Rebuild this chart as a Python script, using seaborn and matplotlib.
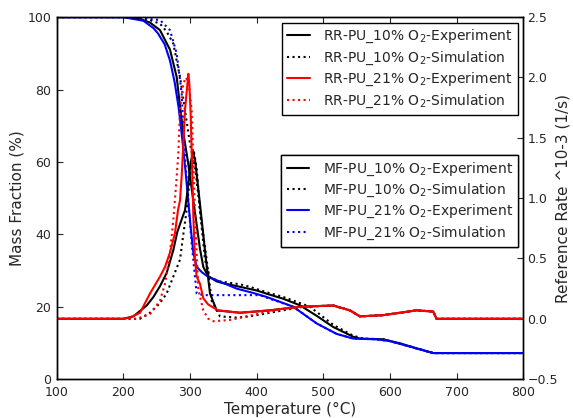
import matplotlib
matplotlib.use("Agg")
import matplotlib.pyplot as plt
import seaborn as sns

# mass fraction curves (left axis, %)
mf10_exp_T = [100, 200, 225, 240, 255, 270, 280, 284, 290, 297, 303, 309, 315, 320, 327, 340, 350, 375,
              400, 415, 440, 465, 490, 515, 545, 555, 590, 615, 640, 665, 700, 800]
mf10_exp_y = [100, 100, 99.5, 98.5, 96.4, 91, 83.5, 77, 68, 60, 52, 44, 36, 31, 28.5, 27, 26.5, 25.5,
              24.5, 23.6, 22.2, 20.4, 17.5, 14.4, 11.7, 11.2, 11, 9.9, 8.5, 7.2, 7.2, 7.2]

mf10_sim_T = [100, 200, 235, 255, 265, 275, 280, 285, 292.5, 300, 307.5, 313, 317.5, 322.5, 330, 345, 375,
              390, 415, 440, 480, 515, 545, 560, 590, 615, 640, 665, 700, 800]
mf10_sim_y = [100, 100, 99.5, 98.2, 96, 92.7, 88, 83.5, 74.3, 65, 58.6, 50, 42, 33, 28, 27, 26.2,
              25.5, 24, 22.7, 20, 15, 12, 11.2, 11, 9.8, 8.5, 7.2, 7.2, 7.2]

mf21_exp_T = [100, 200, 230, 245, 252, 262, 270, 277, 283, 288, 293, 297, 301, 305, 310, 318, 327, 352,
              370, 395, 415, 455, 490, 520, 545, 580, 600, 630, 665, 700, 800]
mf21_exp_y = [100, 100, 99, 97, 95.5, 92.5, 88, 82, 75, 67, 58, 50, 42, 35, 31, 29.5, 28.3, 26.4,
              25, 23.8, 22.7, 20, 15.4, 12.5, 11.2, 11, 10.5, 9, 7.2, 7.2, 7.2]

mf21_sim_T = [100, 210, 255, 270, 280, 287.5, 290, 293, 298, 302.5, 307.5, 310, 320, 405, 415, 455, 490,
              520, 545, 580, 600, 630, 665, 700, 800]
mf21_sim_y = [100, 100, 99.2, 96.4, 90, 78.9, 69.7, 60, 48, 37.5, 28.3, 23.7, 23.2, 23.2, 22.5, 20, 15.4,
              12.5, 11.2, 11, 10.5, 9, 7.2, 7.2, 7.2]

# reaction rate curves (right axis, x10^-3 1/s)
rr10_exp_T = [100, 200, 215, 235, 245, 255, 265, 275, 281, 286, 292.5, 297, 301, 305, 308, 316, 324, 330,
              340, 375, 420, 465, 515, 540, 555, 590, 640, 665, 670, 800]
rr10_exp_r = [0, 0, 0.02, 0.11, 0.18, 0.27, 0.38, 0.57, 0.72, 0.8, 0.9, 1.09, 1.3, 1.38, 1.3, 0.9, 0.49, 0.21,
              0.07, 0.05, 0.07, 0.1, 0.11, 0.07, 0.02, 0.03, 0.07, 0.06, 0.0, 0.0]

rr10_sim_T = [100, 225, 240, 255, 265, 275, 285, 290, 295, 300, 306, 310, 315, 325, 332.5, 345, 370,
              390, 420, 470, 515, 540, 555, 590, 640, 665, 670, 800]
rr10_sim_r = [0, 0, 0.05, 0.13, 0.21, 0.35, 0.49, 0.7, 0.9, 1.18, 1.38, 1.25, 0.9, 0.49, 0.15, 0.02, 0.01,
              0.02, 0.05, 0.1, 0.11, 0.07, 0.02, 0.03, 0.07, 0.06, 0.0, 0.0]

rr21_exp_T = [100, 200, 210, 225, 240, 255, 262.5, 270, 277.5, 282, 285, 287.5, 290, 292.5, 297.5, 299,
              301, 303, 305, 307.5, 310, 315, 320, 327, 342, 375, 420, 465, 515, 540, 555, 590, 640,
              665, 670, 800]
rr21_exp_r = [0, 0, 0.01, 0.05, 0.21, 0.35, 0.43, 0.55, 0.71, 0.9, 0.98, 1.18, 1.45, 1.73, 2.03, 1.95,
              1.7, 1.3, 0.85, 0.49, 0.35, 0.29, 0.17, 0.12, 0.07, 0.05, 0.07, 0.1, 0.11, 0.07, 0.02, 0.03,
              0.07, 0.06, 0.0, 0.0]

rr21_sim_T = [100, 220, 240, 255, 263, 270, 275, 279, 282.5, 285, 290, 294, 298, 302.5, 305, 308, 312.5,
              320, 327.5, 335, 360, 385, 410, 440, 470, 515, 540, 555, 590, 640, 665, 670, 800]
rr21_sim_r = [0, 0, 0.04, 0.15, 0.3, 0.55, 0.82, 1.1, 1.37, 1.73, 1.95, 2.0, 1.95, 1.73, 1.31, 0.8, 0.24,
              0.07, 0.0, -0.02, -0.01, 0.02, 0.05, 0.08, 0.1, 0.11, 0.07, 0.02, 0.03, 0.07, 0.06, 0.0, 0.0]

sns.set_style("white")
plt.rcParams["font.family"] = ["DejaVu Sans"]
plt.rcParams["xtick.direction"] = "in"
plt.rcParams["ytick.direction"] = "in"

fig = plt.figure(figsize=(5.73, 4.18), dpi=100)
ax = fig.add_axes([0.099, 0.093, 0.814, 0.866])
ax2 = ax.twinx()

lw = 1.5

def draw(a, T, v, color, ls, label):
    sns.lineplot(x=T, y=v, ax=a, color=color, linestyle=ls, lw=lw, label=label,
                 estimator=None, sort=False, legend=False)
    return a.lines[-1]

h_mf = [
    draw(ax, mf10_exp_T, mf10_exp_y, "k", "-", "MF-PU_10% O$_2$-Experiment"),
    draw(ax, mf10_sim_T, mf10_sim_y, "k", ":", "MF-PU_10% O$_2$-Simulation"),
    draw(ax, mf21_exp_T, mf21_exp_y, "b", "-", "MF-PU_21% O$_2$-Experiment"),
    draw(ax, mf21_sim_T, mf21_sim_y, "b", ":", "MF-PU_21% O$_2$-Simulation"),
]
h_rr = [
    draw(ax2, rr10_exp_T, rr10_exp_r, "k", "-", "RR-PU_10% O$_2$-Experiment"),
    draw(ax2, rr10_sim_T, rr10_sim_r, "k", ":", "RR-PU_10% O$_2$-Simulation"),
    draw(ax2, rr21_exp_T, rr21_exp_r, "r", "-", "RR-PU_21% O$_2$-Experiment"),
    draw(ax2, rr21_sim_T, rr21_sim_r, "r", ":", "RR-PU_21% O$_2$-Simulation"),
]

ax.set_xlim(100, 800)
ax.set_ylim(0, 100)
ax2.set_ylim(-0.5, 2.5)
ax.set_xticks(range(100, 801, 100))
ax.set_yticks(range(0, 101, 20))
ax2.set_yticks([-0.5, 0.0, 0.5, 1.0, 1.5, 2.0, 2.5])

ax.set_xlabel("Temperature (°C)", fontsize=11, labelpad=2)
ax.set_ylabel("Mass Fraction (%)", fontsize=11, labelpad=2)
ax2.set_ylabel("Reference Rate ^10-3 (1/s)", fontsize=11, labelpad=-2)

for a in (ax, ax2):
    for s in a.spines.values():
        s.set_color("k")
        s.set_linewidth(1.0)
ax.tick_params(axis="both", labelsize=9, length=4, top=True, left=True, bottom=True)
ax.tick_params(axis="x", pad=5)
ax.tick_params(axis="y", pad=4)
ax2.tick_params(axis="y", labelsize=9, length=4, right=True, pad=3)

leg_kw = dict(loc="upper right", borderaxespad=0, fontsize=10, fancybox=False, framealpha=1,
              edgecolor="k", handlelength=1.6, handletextpad=1.0, labelspacing=0.3)
leg1 = ax2.legend(handles=h_rr, bbox_to_anchor=(0.99, 0.985), **leg_kw)
ax2.add_artist(leg1)
leg2 = ax2.legend(handles=h_mf, bbox_to_anchor=(0.99, 0.62), **leg_kw)
ax2.add_artist(leg2)

fig.savefig("out.png", dpi=100)
